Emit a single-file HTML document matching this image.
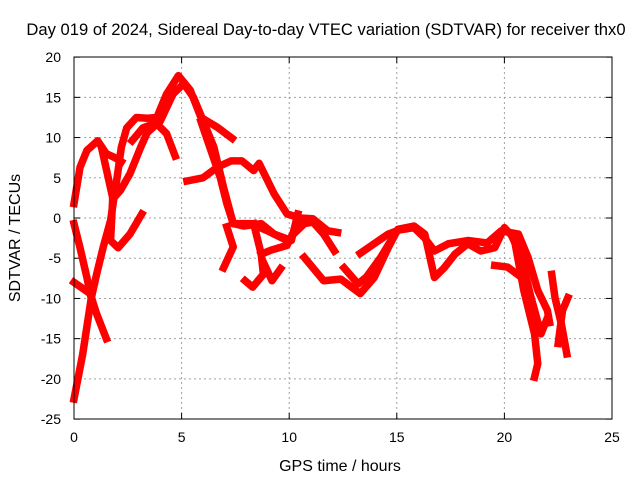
<!DOCTYPE html>
<html><head><meta charset="utf-8"><style>
body{margin:0;background:#fff}
svg{display:block;font-family:"Liberation Sans",sans-serif}
</style></head><body>
<svg id="chart" width="640" height="480">
<text x="326" y="35" text-anchor="middle" font-size="16.6">Day 019 of 2024, Sidereal Day-to-day VTEC variation (SDTVAR) for receiver thx0</text>
<text x="340" y="471" text-anchor="middle" font-size="16">GPS time / hours</text>
<text transform="translate(20,238) rotate(-90)" text-anchor="middle" font-size="16">SDTVAR / TECUs</text>
<g id="grid"></g>
<g id="ticks"></g>
<g id="series"></g>
<rect x="74" y="57" width="538" height="362" fill="none" stroke="#000" stroke-width="1"/>
</svg>
<script>
const xTicks=[0,5,10,15,20,25];
const yTicks=[20,15,10,5,0,-5,-10,-15,-20,-25];
const tracks=[
[[0,-22.5],[0.4,-17],[0.8,-10],[1.05,-7],[1.35,-3.7],[1.7,-0.3],[2,5],[2.2,8.8],[2.45,11.2],[2.9,12.5],[3.4,12.4],[3.85,12.5],[4.3,15.4],[4.85,17.7],[5.4,15.9],[5.9,12.5],[6.65,11.3],[7.35,9.9]],
[[0,1.8],[0.28,6.3],[0.6,8.4],[1.1,9.6],[1.5,8],[1.9,7.5],[2.2,7]],
[[1.3,8.5],[1.8,2.5],[1.7,-2.8],[2.05,-3.7],[2.6,-2],[3.15,0.5]],
[[1.85,2.5],[2.15,3.4],[2.6,5.5],[3.1,8.8],[3.4,10.6],[3.85,11.7],[4.3,10.5],[4.7,7.7]],
[[2.7,9.6],[3.2,11.2],[4,12],[4.6,15.4],[5.1,16.7],[5.55,15],[6,12.1],[6.5,8.8],[6.95,3.8],[7.4,-0.7],[8.2,-0.7],[9,-1.6],[9.9,-2.8]],
[[5.25,4.6],[6,5],[6.65,6.3],[7.3,7.1],[7.8,7.1],[8.35,5.9],[8.6,6.8],[9.3,3],[9.9,0.5],[10.5,0],[11.1,-0.1],[11.8,-1.6],[12.25,-1.8]],
[[5.9,12],[6.8,5],[7.1,1.8],[7.4,-0.7],[7.9,-1],[8.7,-0.7],[9.3,-2],[10.1,-2.8],[10.4,0.5]],
[[7.1,-1.1],[7.4,-3.6],[6.95,-6.2]],
[[8.35,-0.7],[8.7,-4.5],[8.8,-7],[8.3,-8.6],[7.95,-7.8]],
[[8.7,-4.5],[9.15,-4],[9.9,-3.4],[10.4,-0.7]],
[[8.8,-5.5],[9.2,-7.8],[9.6,-6.3]],
[[0,-8],[0.75,-9.4],[1.05,-11.9],[1.5,-15]],
[[0,-0.7],[0.28,-3.7],[0.6,-7.4],[0.8,-10]],
[[10.2,-2],[10.7,-0.7],[11.1,-0.5],[11.6,-2],[12.1,-4.1]],
[[10.7,-4.9],[11.6,-7.8],[12.4,-7.6],[13.3,-9.4],[13.95,-7.4],[14.6,-3.7],[15.05,-1.4],[15.8,-1],[16.3,-2],[16.75,-7.4],[17.2,-6.2],[17.7,-4.5],[18.3,-3.2],[18.9,-4.1],[19.55,-3.7],[20,-1.2],[20.45,-2.5],[20.9,-9],[21.4,-14.4],[21.55,-18.1],[21.4,-19.8]],
[[13.3,-4.4],[14.6,-2],[15.1,-1.5],[15.8,-1.2],[16.3,-2.5],[16.75,-4.1],[17.4,-3.2],[18.3,-2.8],[19.2,-3.1],[19.85,-1.6],[20.65,-2],[21.1,-4.9],[21.55,-9],[22,-11.5],[22.1,-13]],
[[12.55,-6.2],[13.2,-8.2],[13.6,-7.3],[14.25,-4.9],[14.8,-2.5]],
[[19.55,-5.9],[20.15,-6.1],[20.8,-7.4]],
[[20.3,-2],[20.8,-4.9],[21.2,-9.5],[21.7,-14.4],[22,-12.4]],
[[22.2,-7],[22.35,-9.9],[22.65,-13.2],[22.9,-16.9]],
[[22.95,-9.9],[22.7,-11.5],[22.5,-15.6]]
];
const NS='http://www.w3.org/2000/svg';
const X=v=>74+v*21.52;
const Y=v=>218-v*8.044;
const grid=document.getElementById('grid'),ticks=document.getElementById('ticks'),series=document.getElementById('series');
function mk(tag,attrs,parent){const e=document.createElementNS(NS,tag);for(const k in attrs)e.setAttribute(k,attrs[k]);parent.appendChild(e);return e;}
xTicks.forEach(t=>{
  if(t>0&&t<25){const g=mk('line',{x1:X(t),x2:X(t),y1:57,y2:419,stroke:'#a0a0a0','stroke-dasharray':'2,3'},grid);
  
  }
  mk('line',{x1:X(t),x2:X(t),y1:419,y2:413,stroke:'#000'},ticks);
  mk('line',{x1:X(t),x2:X(t),y1:57,y2:63,stroke:'#000'},ticks);
  const l=mk('text',{x:X(t),y:442,'text-anchor':'middle','font-size':'14'},ticks);l.textContent=t;
  
  
});
yTicks.forEach(t=>{
  if(t<20&&t>-25){const g=mk('line',{x1:74,x2:612,y1:Y(t),y2:Y(t),stroke:'#a0a0a0','stroke-dasharray':'2,3'},grid);
  
  }
  mk('line',{x1:74,x2:80,y1:Y(t),y2:Y(t),stroke:'#000'},ticks);
  mk('line',{x1:606,x2:612,y1:Y(t),y2:Y(t),stroke:'#000'},ticks);
  const l=mk('text',{x:61,y:Y(t)+5,'text-anchor':'end','font-size':'14'},ticks);l.textContent=t;
  
  
});
tracks.forEach((tr,i)=>{
  const p=mk('polyline',{points:tr.map(d=>X(d[0])+','+Y(d[1])).join(' '),fill:'none',stroke:'#ff0000','stroke-width':'7.5','stroke-linejoin':'round','stroke-linecap':'square'},series);
  
  
});
</script>
</body></html>
